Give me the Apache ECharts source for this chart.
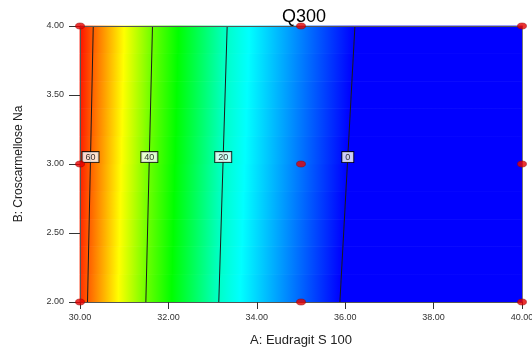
<!DOCTYPE html>
<html>
<head>
<meta charset="utf-8">
<script src="https://cdn.jsdelivr.net/npm/echarts@6/dist/echarts.min.js"></script>
<style>html,body{margin:0;padding:0;background:#fff}#c{width:532px;height:349px}</style>
</head>
<body>
<div id="c"></div>
<script>
// ---- data ----
const contourLevels = [60, 40, 20, 0];
const contourXAtY2 = [30.17, 31.49, 33.14, 35.88];   // x where contour meets B = 2.00
const contourXAtY4 = [30.30, 31.64, 33.33, 36.22];   // x where contour meets B = 4.00
const edgeValueLeft = [63, 65];    // estimated response at A=30 for B=2, B=4
const edgeValueRight = [-20, -20]; // estimated response at A=40 for B=2, B=4
const colorMax = 66;               // response shown as pure red
const contourLabelY = 3.05;
const designA = [30, 30, 30, 35, 35, 35, 40, 40, 40];
const designB = [2, 3, 4, 2, 3, 4, 2, 3, 4];
const xTicks = [30, 32, 34, 36, 38, 40];
const yTicks = [2, 2.5, 3, 3.5, 4];

// boundaries between colour bands (edges + contour lines)
const boundaries = [{x2: 30, x4: 30, v2: edgeValueLeft[0], v4: edgeValueLeft[1]}]
  .concat(contourLevels.map((l, i) => ({x2: contourXAtY2[i], x4: contourXAtY4[i], v2: l, v4: l})))
  .concat([{x2: 40, x4: 40, v2: edgeValueRight[0], v4: edgeValueRight[1]}]);

const knots = [[0, [0,0,255]], [0.25, [0,255,255]], [0.5, [0,255,0]], [0.75, [255,255,0]], [1, [255,0,0]]];
function rainbow(v) {
  const t = Math.max(0, Math.min(1, v / colorMax));
  for (let i = 0; i < knots.length - 1; i++) {
    const a = knots[i], b = knots[i+1];
    if (t <= b[0]) {
      const f = (t - a[0]) / (b[0] - a[0]);
      const c = a[1].map((ch, k) => Math.round(ch + (b[1][k] - ch) * f));
      return 'rgb(' + c.join(',') + ')';
    }
  }
  return 'rgb(255,0,0)';
}
function gradientStops(vA, vB) {
  const stops = [{offset: 0, color: rainbow(vA)}];
  if (vA !== vB) {
    const hi = Math.max(vA, vB), lo = Math.min(vA, vB);
    knots.forEach(k => {
      const kv = k[0] * colorMax;
      if (kv > lo && kv < hi) stops.push({offset: (vA - kv) / (vA - vB), color: rainbow(kv)});
    });
  }
  stops.push({offset: 1, color: rainbow(vB)});
  stops.sort((a, b) => a.offset - b.offset);
  return stops;
}
function at(b, y) {
  const f = (y - 2) / 2;
  return {x: b.x2 + (b.x4 - b.x2) * f, v: b.v2 + (b.v4 - b.v2) * f};
}

const bandData = boundaries.slice(0, -1).map((b, i) => [b.x2, 2, i]);
const SLICES = 10;

const series = [];
series.push({
  type: 'custom',
  z: 1,
  silent: true,
  data: bandData,
  renderItem: function (params, api) {
    const i = params.dataIndex;
    const A = boundaries[i], B = boundaries[i + 1];
    const children = [];
    for (let j = 0; j < SLICES; j++) {
      const y0 = 2 + 2 * j / SLICES, y1 = 2 + 2 * (j + 1) / SLICES, ym = (y0 + y1) / 2;
      const a0 = at(A, y0), a1 = at(A, y1), b0 = at(B, y0), b1 = at(B, y1);
      const am = at(A, ym), bm = at(B, ym);
      const p = [api.coord([a0.x, y0]), api.coord([b0.x, y0]), api.coord([b1.x, y1]), api.coord([a1.x, y1])];
      const pa = api.coord([am.x, ym]), pb = api.coord([bm.x, ym]);
      const grad = new echarts.graphic.LinearGradient(pa[0], 0, pb[0], 0, gradientStops(am.v, bm.v), true);
      children.push({type: 'polygon', shape: {points: p}, style: {fill: grad, stroke: grad, lineWidth: 0.8}});
    }
    return {type: 'group', children: children};
  }
});

contourLevels.forEach((lvl, i) => {
  series.push({
    type: 'line', z: 3, silent: true, symbol: 'none',
    data: [[contourXAtY2[i], 2], [contourXAtY4[i], 4]],
    lineStyle: {color: '#1a1a1a', width: 1}
  });
});

series.push({
  type: 'scatter', z: 4, silent: true, symbolSize: 1,
  itemStyle: {color: 'rgba(0,0,0,0)'},
  data: contourLevels.map((lvl, i) => {
    const f = (contourLabelY - 2) / 2;
    return {value: [contourXAtY2[i] + (contourXAtY4[i] - contourXAtY2[i]) * f, contourLabelY], name: String(lvl)};
  }),
  label: {
    show: true, position: 'inside', formatter: p => p.name,
    fontFamily: 'Liberation Sans', fontSize: 9, color: '#000',
    backgroundColor: '#fff', borderColor: '#000', borderWidth: 1, padding: [0, 3, 0, 3], lineHeight: 10
  }
});

series.push({
  type: 'scatter', z: 6, silent: true,
  symbol: 'circle', symbolSize: [9, 6],
  itemStyle: {color: '#e60000', borderColor: '#900', borderWidth: 0.6},
  data: designA.map((a, i) => [a, designB[i]])
});

const labelStyle = {fontFamily: 'Liberation Sans', fontSize: 9, color: '#333'};
const option = {
  animation: false,
  backgroundColor: '#fff',
  title: {
    text: 'Q300', left: 299, top: 3, textAlign: 'center',
    textStyle: {fontFamily: 'Liberation Sans', fontSize: 18, fontWeight: 'normal', color: '#000'}
  },
  grid: {left: 80, right: 10, top: 26, bottom: 47, containLabel: false, outerBoundsMode: 'none'},
  xAxis: [{
    type: 'value', min: 30, max: 40, interval: 2, z: 5,
    axisLine: {show: true, onZero: false, lineStyle: {color: '#555', width: 1}},
    axisTick: {show: true, length: 7, lineStyle: {color: '#333'}},
    splitLine: {show: false},
    axisLabel: Object.assign({margin: 11, formatter: v => xTicks.indexOf(v) >= 0 ? v.toFixed(2) : ''}, labelStyle),
    name: 'A: Eudragit S 100', nameLocation: 'middle', nameGap: 32,
    nameTextStyle: {fontFamily: 'Liberation Sans', fontSize: 13, color: '#222'}
  }, {
    type: 'value', position: 'top', min: 30, max: 40, z: 5,
    axisLine: {show: true, onZero: false, lineStyle: {color: '#555', width: 1}},
    axisTick: {show: false}, axisLabel: {show: false}, splitLine: {show: false}
  }],
  yAxis: [{
    type: 'value', min: 2, max: 4, interval: 0.5, z: 5,
    axisLine: {show: true, onZero: false, lineStyle: {color: '#555', width: 1}},
    axisTick: {show: true, length: 11, lineStyle: {color: '#333'}},
    splitLine: {show: false},
    axisLabel: Object.assign({margin: 16, formatter: v => yTicks.indexOf(v) >= 0 ? v.toFixed(2) : ''}, labelStyle),
    name: 'B: Croscarmellose Na', nameLocation: 'middle', nameGap: 55,
    nameTextStyle: {fontFamily: 'Liberation Sans', fontSize: 12, color: '#222'}
  }, {
    type: 'value', position: 'right', min: 2, max: 4, z: 5,
    axisLine: {show: true, onZero: false, lineStyle: {color: '#777', width: 1}},
    axisTick: {show: false}, axisLabel: {show: false}, splitLine: {show: false}
  }],
  series: series
};
echarts.init(document.getElementById('c'), null, {renderer: 'canvas'}).setOption(option);
</script>
</body>
</html>
